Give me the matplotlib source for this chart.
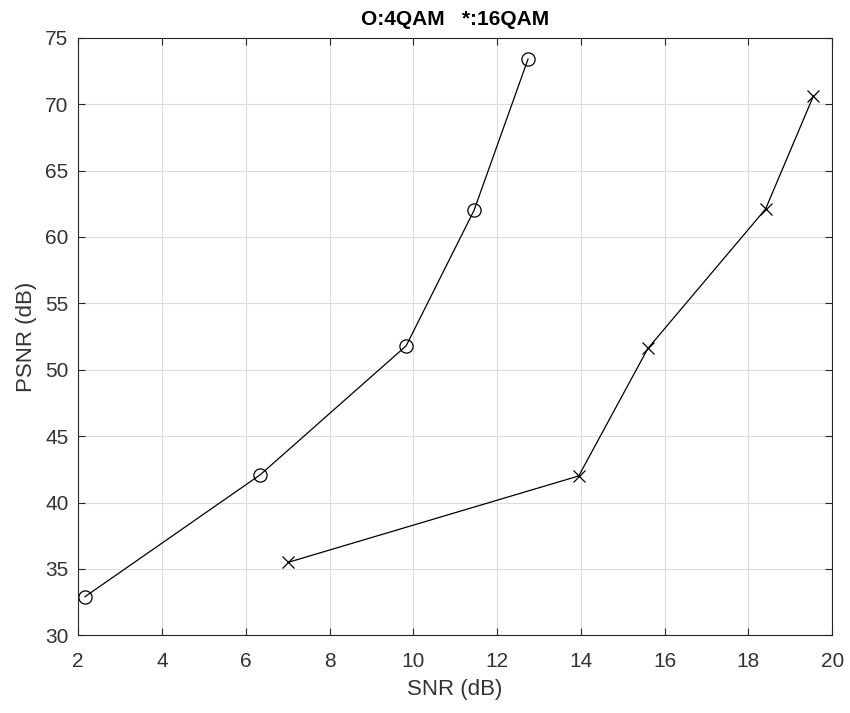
import numpy as np
import matplotlib
matplotlib.use('Agg')
import matplotlib.pyplot as plt
matplotlib.rcParams.update({'font.family': ['Liberation Sans', 'DejaVu Sans']})

# 4QAM (circles)
snr_4qam = [2.16, 6.35, 9.83, 11.45, 12.74]
psnr_4qam = [32.9, 42.1, 51.8, 62.0, 73.4]
# 16QAM (crosses)
snr_16qam = [7.02, 13.95, 15.6, 18.41, 19.55]
psnr_16qam = [35.5, 42.0, 51.6, 62.1, 70.6]

xticks = np.arange(2, 21, 2)
yticks = np.arange(30, 76, 5)

fig = plt.figure(figsize=(8.5, 7.13), dpi=100)
ax = fig.add_axes([0.092, 0.109, 0.887, 0.838])

ax.plot(snr_4qam, psnr_4qam, 'k-o', mfc='none', ms=9.5, lw=0.9, mew=0.9)
ax.plot(snr_16qam, psnr_16qam, 'k-x', ms=8.5, lw=0.9, mew=0.9)

ax.set_xlim(2, 20)
ax.set_ylim(30, 75)
ax.set_xticks(xticks)
ax.set_yticks(yticks)
ax.grid(True, color='#dcdcdc', lw=0.8)
ax.set_axisbelow(True)
ax.tick_params(direction='in', top=True, right=True, length=5, labelsize=15,
               colors='#262626', labelcolor='#333333')
ax.tick_params(axis='x', pad=12)
ax.tick_params(axis='y', pad=7)
for s in ax.spines.values():
    s.set_color('#262626')
    s.set_linewidth(0.8)

ax.set_xlabel('SNR (dB)', fontsize=16, color='#333333', labelpad=6)
ax.set_ylabel('PSNR (dB)', fontsize=16, color='#333333', labelpad=6)
ax.set_title('O:4QAM   *:16QAM', fontsize=15, fontweight='bold', pad=9)

fig.savefig('out.png', dpi=100)
